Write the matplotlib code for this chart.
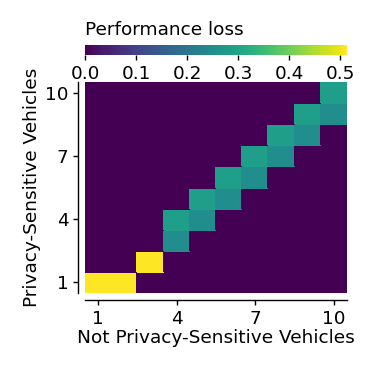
import numpy as np
import matplotlib
matplotlib.use('Agg')
import matplotlib.pyplot as plt


# number of vehicles on each axis
not_private = [1, 2, 3, 4, 5, 6, 7, 8, 9, 10]
private = [1, 2, 3, 4, 5, 6, 7, 8, 9, 10]

# performance loss, one row per privacy-sensitive count (row 0 -> 1 vehicle)
loss = [
  [0.513, 0.513, 0, 0, 0, 0, 0, 0, 0, 0],
  [0, 0, 0.513, 0, 0, 0, 0, 0, 0, 0],
  [0, 0, 0, 0.25, 0, 0, 0, 0, 0, 0],
  [0, 0, 0, 0.285, 0.25, 0, 0, 0, 0, 0],
  [0, 0, 0, 0, 0.285, 0.25, 0, 0, 0, 0],
  [0, 0, 0, 0, 0, 0.285, 0.25, 0, 0, 0],
  [0, 0, 0, 0, 0, 0, 0.285, 0.25, 0, 0],
  [0, 0, 0, 0, 0, 0, 0, 0.285, 0.25, 0],
  [0, 0, 0, 0, 0, 0, 0, 0, 0.285, 0.25],
  [0, 0, 0, 0, 0, 0, 0, 0, 0, 0.285],
]

ticks = [1, 4, 7, 10]
cbar_ticks = [0.0, 0.1, 0.2, 0.3, 0.4, 0.5]


def main():
  plt.rcParams['font.family'] = 'DejaVu Sans'
  plt.rcParams['font.size'] = 13.3
  plt.rcParams['axes.linewidth'] = 1.0
  plt.rcParams['xtick.major.width'] = 1.0
  plt.rcParams['ytick.major.width'] = 1.0

  fig = plt.figure(figsize=(3.74, 3.74), dpi=100)
  ax = fig.add_axes([0.2273, 0.2166, 0.7005, 0.564])
  cax = fig.add_axes([0.2273, 0.853, 0.7005, 0.0267])

  x = np.array(not_private)
  y = np.array(private)
  xe = np.append(x - 0.5, x[-1] + 0.5)
  ye = np.append(y - 0.5, y[-1] + 0.5)
  mesh = ax.pcolormesh(xe, ye, np.array(loss), cmap='viridis',
                       vmin=0, vmax=0.513, edgecolors='face', linewidth=0.3)

  ax.set_xlim(xe[0], xe[-1])
  ax.set_ylim(ye[0], ye[-1])
  ax.set_xticks(ticks)
  ax.set_yticks(ticks)
  ax.set_xlabel('Not Privacy-Sensitive Vehicles', labelpad=1)
  ax.set_ylabel('Privacy-Sensitive Vehicles', labelpad=3)

  # seaborn style despine with offset
  for side in ['top', 'right']:
    ax.spines[side].set_visible(False)
  for side in ['left', 'bottom']:
    ax.spines[side].set_position(('outward', 5))

  cbar = fig.colorbar(mesh, cax=cax, orientation='horizontal', ticks=cbar_ticks)
  cbar.outline.set_visible(False)
  cax.set_title('Performance loss', loc='left', pad=7, fontsize=13.3)

  fig.savefig('out.png', dpi=100)


if __name__ == '__main__':
  main()
